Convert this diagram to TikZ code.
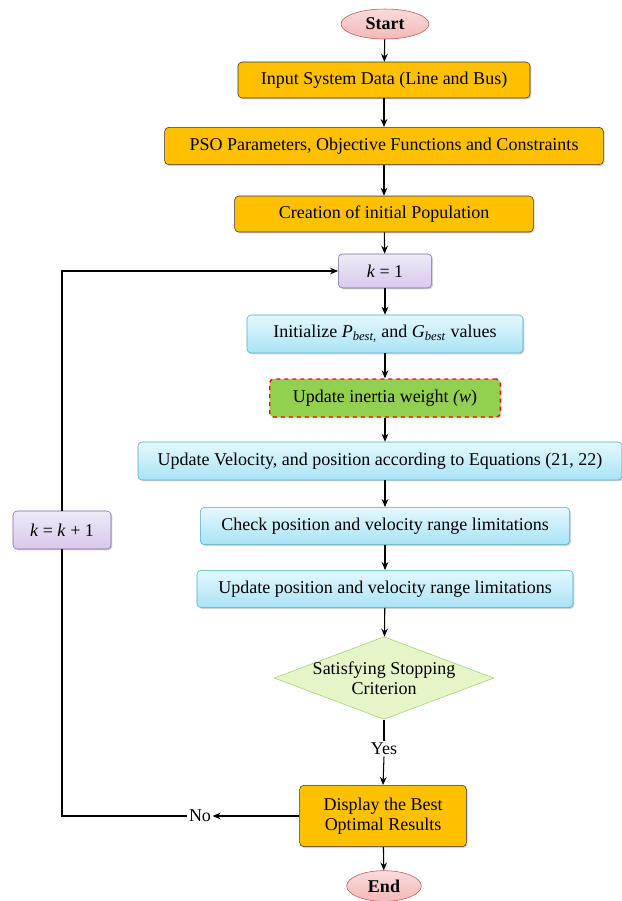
\documentclass[tikz,border=0pt]{standalone}
\usepackage{fontspec}
\setmainfont{Liberation Serif}
\usetikzlibrary{shapes.geometric,arrows.meta,shadows}

\definecolor{boxorange}{HTML}{FFC000}
\definecolor{termfill}{HTML}{F4B8B8}
\definecolor{termline}{HTML}{C0504D}
\definecolor{kfill}{HTML}{D8C9EC}
\definecolor{kline}{HTML}{8064A2}
\definecolor{bluetop}{HTML}{E4F8FE}
\definecolor{bluebot}{HTML}{A9E3F6}
\definecolor{blueline}{HTML}{4BACC6}
\definecolor{inertiafill}{HTML}{92D050}
\definecolor{decfill}{HTML}{E4F6C8}
\definecolor{decline}{HTML}{A9CC6A}

\tikzset{
  txt/.style={font=\fontsize{13.5}{15}\selectfont},
  basebox/.style={txt,rounded corners=3pt,inner sep=2pt,align=center,
    drop shadow={opacity=0.35,shadow xshift=1pt,shadow yshift=-1pt}},
  termbox/.style={ellipse,draw=termline,top color=termfill!50,bottom color=termfill,
    font=\fontsize{13.5}{15}\selectfont\bfseries,inner sep=0pt},
  orangebox/.style={basebox,draw=black!80,fill=boxorange},
  kbox/.style={basebox,draw=kline,top color=kfill!40,bottom color=kfill},
  bluebox/.style={basebox,draw=blueline,top color=bluetop,bottom color=bluebot},
  inertiabox/.style={basebox,draw=red,dashed,line width=1pt,fill=inertiafill},
  decbox/.style={txt,diamond,draw=decline,fill=decfill,aspect=2.66,inner sep=-3pt,
    align=center},
  flow/.style={-{Stealth[length=6pt,width=5pt]},line width=0.8pt},
  plain/.style={line width=0.8pt}
}

\begin{document}
\begin{tikzpicture}[x=0.75pt,y=-0.75pt]
\useasboundingbox (0,0) rectangle (622,901);
% main column
\node[termbox,minimum width=66pt,minimum height=22.5pt] (start) at (385,24) {Start};
\node[orangebox,minimum width=219pt,minimum height=27pt] (input) at (384,80) {Input System Data (Line and Bus)};
\node[orangebox,minimum width=329pt,minimum height=28pt] (pso) at (384,146) {PSO Parameters, Objective Functions and Constraints};
\node[orangebox,minimum width=224pt,minimum height=27pt] (creat) at (384,214) {Creation of initial Population};
\node[kbox,minimum width=70pt,minimum height=25.5pt] (kone) at (385,271) {\textit{k} = 1};
\node[bluebox,minimum width=207pt,minimum height=28.5pt] (init) at (385,334)
  {Initialize \textit{P}\textsubscript{\textit{best},} and \textit{G}\textsubscript{\textit{best}} values};
\node[inertiabox,minimum width=173pt,minimum height=28.5pt] (inert) at (385,398) {Update inertia weight \textit{(w})};
\node[bluebox,minimum width=363pt,minimum height=28.5pt] (veloc) at (380,461)
  {Update Velocity, and position according to Equations (21, 22)};
\node[bluebox,minimum width=277pt,minimum height=28pt] (check) at (385,526) {Check position and velocity range limitations};
\node[bluebox,minimum width=282pt,minimum height=28pt] (updpos) at (385,589) {Update position and velocity range limitations};
\node[decbox,minimum width=165pt,minimum height=62pt] (stop) at (384,678) {Satisfying Stopping\\Criterion};
\node[txt,inner sep=1pt] (yes) at (384,749) {Yes};
\node[orangebox,minimum width=125pt,minimum height=46pt] (disp) at (383,816) {Display the Best\\Optimal Results};
\node[termbox,minimum width=56pt,minimum height=23pt] (stopend) at (384,886) {End};
% loop back
\node[kbox,minimum width=73.5pt,minimum height=28.5pt] (knext) at (62,530) {\textit{k} = \textit{k} + 1};
\node[txt,inner sep=1pt] (no) at (200,816) {No};

\draw[flow] (start) -- (input);
\draw[flow] (input) -- (pso);
\draw[flow] (pso) -- (creat);
\draw[flow] (creat) -- (kone);
\draw[flow] (kone) -- (init);
\draw[flow] (init) -- (inert);
\draw[flow] (inert.south) -- (inert.south |- veloc.north);
\draw[flow] (inert.south |- veloc.south) -- (check.north);
\draw[flow] (check) -- (updpos);
\draw[flow] (updpos) -- (stop);
\draw[plain] (stop.south) -- (yes.north);
\draw[flow] (yes.south) -- (disp.north);
\draw[flow] (disp) -- (stopend);
\draw[flow] (disp.west) -- (no.east);
\draw[plain] (no.west) -- (no.west -| knext.south) -- (knext.south);
\draw[flow] (knext.north) |- (kone.west);
\end{tikzpicture}
\end{document}
